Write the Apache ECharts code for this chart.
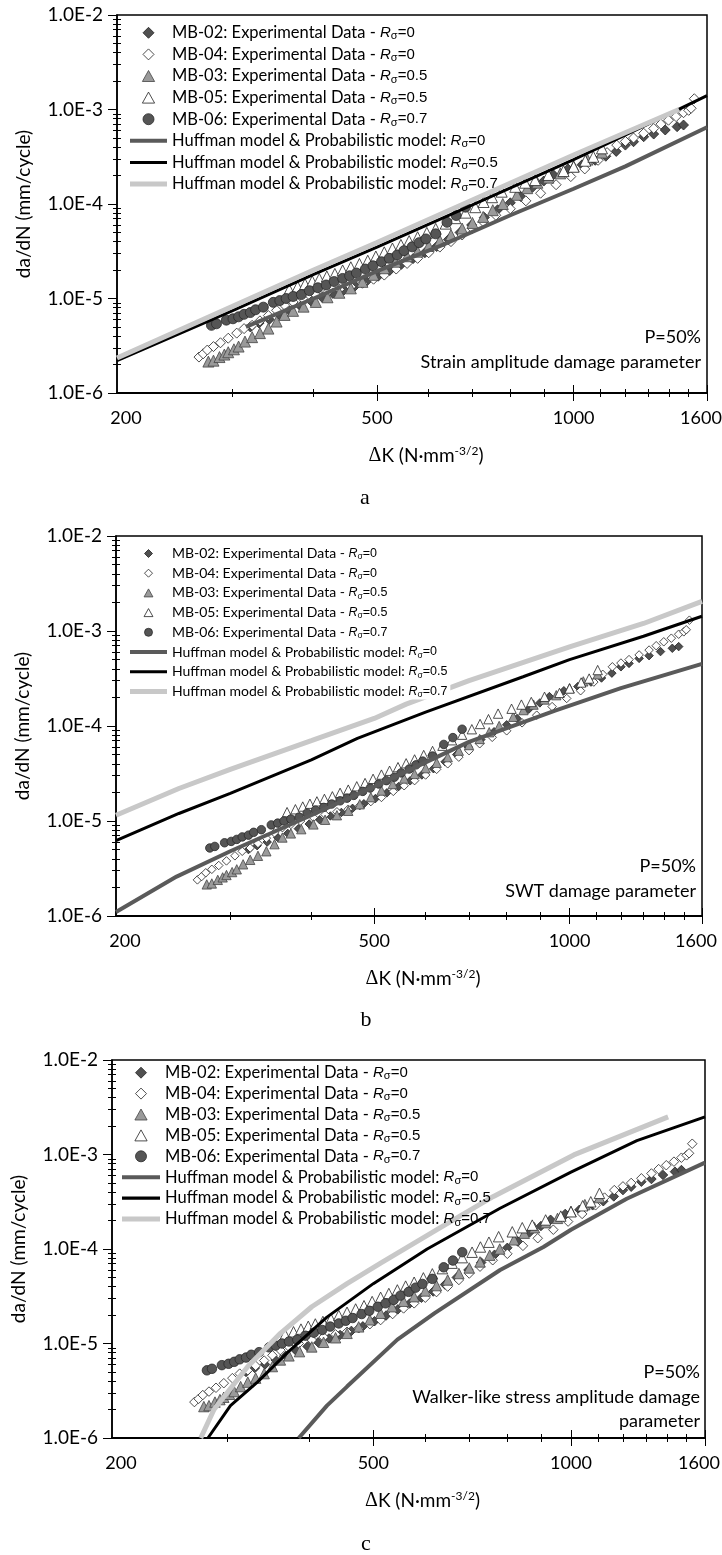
<!DOCTYPE html>
<html>
<head>
<meta charset="utf-8">
<script src="https://cdn.jsdelivr.net/npm/echarts@6/dist/echarts.min.js"></script>
<style>
  html, body { margin: 0; padding: 0; background: #fff; }
  #chart { width: 722px; height: 1555px; }
</style>
</head>
<body>
<div id="chart"></div>
<script>
// experimental data (same specimens in all three panels), [dK, da/dN]
const mb02 = [[320,5.0e-6],[330,5.5e-6],[342,6.0e-6],[355,6.7e-6],[368,7.4e-6],[382,8.3e-6],[397,9.3e-6],[412,1.03e-5],[428,1.13e-5],[445,1.23e-5],[463,1.36e-5],[482,1.52e-5],[502,1.72e-5],[523,1.98e-5],[545,2.3e-5],[568,2.65e-5],[592,3.05e-5],[617,3.55e-5],[643,4.2e-5],[670,5.0e-5],[698,6.0e-5],[730,7.2e-5],[765,8.7e-5],[800,1.03e-4],[830,1.2e-4],[865,1.5e-4],[900,1.75e-4],[931,2.04e-4],[980,2.35e-4],[1030,2.6e-4],[1079,2.9e-4],[1120,3.2e-4],[1162,3.6e-4],[1200,4.2e-4],[1235,4.56e-4],[1280,5.15e-4],[1326,5.5e-4],[1381,6.07e-4],[1440,6.58e-4],[1473,6.85e-4]];
const mb04 = [[267,2.4e-6],[271,2.6e-6],[275,2.85e-6],[281,3.1e-6],[288,3.4e-6],[296,3.8e-6],[305,4.3e-6],[313,4.8e-6],[322,5.2e-6],[331,5.8e-6],[341,6.6e-6],[351,7.5e-6],[361,8.5e-6],[372,9.2e-6],[385,1.0e-5],[403,1.09e-5],[420,1.17e-5],[438,1.25e-5],[456,1.33e-5],[475,1.45e-5],[494,1.6e-5],[513,1.77e-5],[535,2.05e-5],[556,2.35e-5],[577,2.66e-5],[600,3.05e-5],[624,3.5e-5],[649,4.0e-5],[675,4.7e-5],[700,5.5e-5],[727,6.5e-5],[760,7.6e-5],[800,8.9e-5],[845,1.08e-4],[890,1.3e-4],[940,1.6e-4],[990,1.95e-4],[1040,2.35e-4],[1090,2.9e-4],[1125,3.5e-4],[1164,4.2e-4],[1200,4.6e-4],[1235,5.0e-4],[1280,5.6e-4],[1326,6.3e-4],[1360,7.0e-4],[1397,7.7e-4],[1435,8.4e-4],[1473,9.25e-4],[1500,9.8e-4],[1513,1.03e-3],[1530,1.3e-3]];
const mb03 = [[276,2.15e-6],[281,2.2e-6],[287,2.4e-6],[292,2.55e-6],[296,2.7e-6],[302,2.9e-6],[307,3.1e-6],[314,3.5e-6],[322,3.9e-6],[331,4.3e-6],[341,4.8e-6],[351,5.7e-6],[361,6.7e-6],[372,7.4e-6],[386,8.2e-6],[403,9.2e-6],[420,1.03e-5],[438,1.15e-5],[456,1.28e-5],[475,1.5e-5],[494,1.78e-5],[513,2.09e-5],[534,2.45e-5],[556,2.8e-5],[577,3.13e-5],[600,3.6e-5],[624,4.1e-5],[649,4.7e-5],[675,5.5e-5],[700,6.3e-5],[727,7.3e-5],[752,8.6e-5],[779,1.0e-4],[819,1.25e-4],[849,1.47e-4],[880,1.68e-4],[915,1.9e-4],[954,2.11e-4],[1000,2.5e-4],[1050,2.95e-4],[1105,3.5e-4]];
const mb05 = [[367,1.24e-5],[378,1.33e-5],[388,1.42e-5],[398,1.52e-5],[408,1.61e-5],[419,1.71e-5],[431,1.82e-5],[443,1.98e-5],[456,2.14e-5],[470,2.32e-5],[484,2.51e-5],[498,2.78e-5],[513,3.08e-5],[528,3.38e-5],[544,3.69e-5],[560,4.05e-5],[577,4.45e-5],[596,4.95e-5],[615,5.46e-5],[637,6.2e-5],[659,7.08e-5],[683,8.1e-5],[707,9.25e-5],[728,1.05e-4],[750,1.18e-4],[776,1.35e-4],[814,1.52e-4],[843,1.68e-4],[873,1.79e-4],[915,2.03e-4],[965,2.23e-4],[1000,2.48e-4],[1042,2.87e-4],[1072,3.16e-4],[1105,3.88e-4]];
const mb06 = [[279,5.2e-6],[284,5.4e-6],[294,5.9e-6],[301,6.1e-6],[307,6.4e-6],[313,6.8e-6],[320,7.1e-6],[326,7.6e-6],[335,8.1e-6],[347,9.1e-6],[355,9.5e-6],[363,1.0e-5],[372,1.05e-5],[383,1.1e-5],[394,1.21e-5],[406,1.3e-5],[418,1.39e-5],[430,1.51e-5],[443,1.63e-5],[454,1.74e-5],[465,1.86e-5],[480,2.05e-5],[493,2.22e-5],[508,2.45e-5],[522,2.66e-5],[537,2.89e-5],[550,3.21e-5],[566,3.52e-5],[580,3.9e-5],[594,4.27e-5],[615,4.83e-5],[640,6.4e-5],[661,7.55e-5],[683,9.25e-5]];

// Huffman & probabilistic model curves, per panel
const aR0 = [[315,5.0e-6],[400,1.0e-5],[500,1.95e-5],[625,3.6e-5],[800,7.6e-5],[1000,1.45e-4],[1200,2.5e-4],[1600,6.5e-4]];
const aR05 = [[200,2.2e-6],[300,7.4e-6],[400,1.8e-5],[500,3.5e-5],[700,9.8e-5],[1000,2.95e-4],[1300,7.0e-4],[1600,1.4e-3]];
const aR07 = [[200,2.35e-6],[300,8.2e-6],[400,2.0e-5],[500,3.9e-5],[700,1.1e-4],[1000,3.3e-4],[1450,1.0e-3]];
const bR0 = [[200,1.1e-6],[248,2.6e-6],[300,4.8e-6],[400,1.15e-5],[500,2.3e-5],[700,6.8e-5],[950,1.45e-4],[1200,2.5e-4],[1600,4.5e-4]];
const bR05 = [[200,6.2e-6],[250,1.2e-5],[300,1.95e-5],[400,4.4e-5],[471,7.4e-5],[600,1.4e-4],[848,3.3e-4],[1000,5.0e-4],[1300,8.8e-4],[1600,1.43e-3]];
const bR07 = [[200,1.15e-5],[250,2.2e-5],[300,3.5e-5],[400,7.0e-5],[500,1.2e-4],[560,1.7e-4],[700,3.0e-4],[1000,6.8e-4],[1300,1.2e-3],[1600,2.05e-3]];
const cR0 = [[385,1.0e-6],[425,2.2e-6],[456,3.5e-6],[544,1.1e-5],[620,2.1e-5],[780,6.0e-5],[908,1.05e-4],[1000,1.6e-4],[1216,3.4e-4],[1600,8.2e-4]];
const cR05 = [[280,1.0e-6],[303,2.2e-6],[333,3.9e-6],[370,8.0e-6],[425,1.9e-5],[500,4.3e-5],[604,1.0e-4],[780,2.7e-4],[1000,6.5e-4],[1260,1.4e-3],[1600,2.5e-3]];
const cR07 = [[273,1.0e-6],[286,2.0e-6],[322,5.7e-6],[361,1.28e-5],[403,2.45e-5],[456,4.3e-5],[513,7.1e-5],[625,1.6e-4],[762,3.6e-4],[1010,9.9e-4],[1406,2.5e-3]];

// axis ticks / labels
const xLabels = [200, 500, 1000, 1600];
const xMajor = [500, 1000, 1600];
const xMinor = [300, 400, 600, 700, 800, 900, 1100, 1200, 1300, 1400, 1500];
const yMinor = [];
[1e-6, 1e-5, 1e-4, 1e-3].forEach(d => { for (let k = 2; k <= 9; k++) yMinor.push(k * d); });

const panelTitles = ['a', 'b', 'c'];
const damageNames = ['Strain amplitude damage parameter', 'SWT damage parameter', 'Walker-like stress amplitude damage\nparameter'];

const legendText = {
  'MB-02': '{t|MB-02: Experimental Data - }{r|R}{s|σ}{e|=0}',
  'MB-04': '{t|MB-04: Experimental Data - }{r|R}{s|σ}{e|=0}',
  'MB-03': '{t|MB-03: Experimental Data - }{r|R}{s|σ}{e|=0.5}',
  'MB-05': '{t|MB-05: Experimental Data - }{r|R}{s|σ}{e|=0.5}',
  'MB-06': '{t|MB-06: Experimental Data - }{r|R}{s|σ}{e|=0.7}',
  'H0': '{t|Huffman model & Probabilistic model: }{r|R}{s|σ}{e|=0}',
  'H05': '{t|Huffman model & Probabilistic model: }{r|R}{s|σ}{e|=0.5}',
  'H07': '{t|Huffman model & Probabilistic model: }{r|R}{s|σ}{e|=0.7}'
};

const iconPath = {
  diamond: 'path://M5,0L10,5L5,10L0,5Z',
  triangle: 'path://M5,0L10,9L0,9Z',
  circle: 'path://M0,5A5,5,0,1,1,10,5A5,5,0,1,1,0,5Z'
};

const specimens = [
  { name: 'MB-02', data: mb02, symbol: 'diamond', size: 10, fill: '#505050', stroke: '#222' },
  { name: 'MB-04', data: mb04, symbol: 'diamond', size: 10, fill: '#fff', stroke: '#222' },
  { name: 'MB-03', data: mb03, symbol: 'triangle', size: 11, fill: '#9a9a9a', stroke: '#444' },
  { name: 'MB-05', data: mb05, symbol: 'triangle', size: 11, fill: '#fff', stroke: '#222' },
  { name: 'MB-06', data: mb06, symbol: 'circle', size: 10, fill: '#555', stroke: '#2a2a2a' }
];
const modelStyle = [
  { name: 'H0', color: '#5a5a5a', width: 4 },
  { name: 'H05', color: '#000', width: 3 },
  { name: 'H07', color: '#c8c8c8', width: 5 }
];

const panels = [
  { grid: { left: 117, top: 15, width: 590, height: 378 }, models: [aR0, aR05, aR07], mk: 1,
    leg: { left: 130, top: 24.3, fs: 16.5, lh: 18, gap: 4.1, iw: 37, ih: 11, bg: 'transparent' },
    note: [701, 337], cap: [365, 498] },
  { grid: { left: 116, top: 536, width: 586, height: 380 }, models: [bR0, bR05, bR07], mk: 0.85,
    leg: { left: 130, top: 546.5, fs: 14, lh: 16, gap: 4.7, iw: 37, ih: 8, bg: '#fff' },
    note: [696, 866], cap: [366, 1020] },
  { grid: { left: 112, top: 1060, width: 593, height: 378 }, models: [cR0, cR05, cR07], mk: 0.95,
    leg: { left: 122, top: 1064.2, fs: 16.5, lh: 18, gap: 3.4, iw: 38, ih: 11, bg: 'transparent' },
    note: [700, 1372], cap: [366, 1544] }
];

const LOG = Math.log10;
const font = 'Lato';
const grids = [], xAxes = [], yAxes = [], series = [], legends = [], graphics = [];

function xDeco(p, ticks, len, inside) {
  return {
    gridIndex: p, type: 'value', position: 'bottom', min: LOG(200), max: LOG(1600),
    axisLine: { show: false, onZero: false },
    axisTick: { show: true, inside: inside, length: len, customValues: ticks.map(LOG), lineStyle: { color: '#000', width: 1 } },
    axisLabel: { show: false }, splitLine: { show: false }
  };
}
function yDeco(p, ticks, len, inside) {
  return {
    gridIndex: p, type: 'value', position: 'left', min: -6, max: -2,
    axisLine: { show: false, onZero: false },
    axisTick: { show: true, inside: inside, length: len, customValues: ticks.map(LOG), lineStyle: { color: '#000', width: 1 } },
    axisLabel: { show: false }, splitLine: { show: false }
  };
}

panels.forEach((P, p) => {
  grids.push(Object.assign({ show: true, borderColor: '#000', borderWidth: 1.5, backgroundColor: 'transparent',
    containLabel: false, outerBoundsMode: 'none' }, P.grid));

  // x axes: 0 = log axis carrying the data, 1..4 = tick / label decorations
  xAxes.push({
    gridIndex: p, type: 'log', logBase: 10, min: 200, max: 1600, position: 'bottom',
    axisLine: { show: true, onZero: false, lineStyle: { color: '#000', width: 2 } },
    axisTick: { show: false }, axisLabel: { show: false }, splitLine: { show: false }
  });
  const lab = xDeco(p, xMajor, 8, false);
  lab.axisLabel = {
    show: true, customValues: xLabels.map(LOG), margin: 16,
    formatter: v => {
      const s = String(Math.round(Math.pow(10, v)));
      if (s === '200') return '{first|200}';
      if (s === '1600') return '{last|1600}';
      return s;
    },
    fontFamily: font, fontSize: 18, color: '#000',
    rich: {
      first: { fontFamily: font, fontSize: 18, color: '#000', padding: [0, 0, 0, 18] },
      last: { fontFamily: font, fontSize: 18, color: '#000', padding: [0, 12, 0, 0] }
    }
  };
  lab.name = '{d|Δ}{n|K (N·mm}{sup|-3/2}{n|)}';
  lab.nameLocation = 'middle';
  lab.nameGap = 52;
  lab.nameTextStyle = {
    padding: [0, 0, 0, 28],
    rich: {
      d: { fontFamily: 'Liberation Serif', fontSize: 20, color: '#000', lineHeight: 22 },
      n: { fontFamily: font, fontSize: 19, color: '#000', lineHeight: 22 },
      sup: { fontFamily: font, fontSize: 12, color: '#000', lineHeight: 12, verticalAlign: 'top' }
    }
  };
  xAxes.push(lab);
  xAxes.push(xDeco(p, xMajor, 8, true));
  xAxes.push(xDeco(p, xMinor, 4, false));
  xAxes.push(xDeco(p, xMinor, 4, true));

  // y axes: 0 = log axis carrying the data, 1..2 = minor ticks
  yAxes.push({
    gridIndex: p, type: 'log', logBase: 10, min: 1e-6, max: 1e-2, position: 'left',
    axisLine: { show: true, onZero: false, lineStyle: { color: '#000', width: 1.5 } },
    axisTick: { show: true, inside: false, length: 9, lineStyle: { color: '#000', width: 1 } },
    axisLabel: { formatter: v => v.toExponential(1).toUpperCase(), margin: 14, fontFamily: font, fontSize: 19, color: '#000' },
    splitLine: { show: false },
    name: 'da/dN (mm/cycle)', nameLocation: 'middle', nameGap: 84,
    nameTextStyle: { fontFamily: font, fontSize: 19, color: '#000' }
  });
  yAxes.push(yDeco(p, yMinor, 4, false));
  yAxes.push(yDeco(p, yMinor, 4, true));

  const xi = p * 5, yi = p * 3;
  specimens.forEach(s => series.push({
    type: 'scatter', name: s.name, xAxisIndex: xi, yAxisIndex: yi, data: s.data,
    symbol: s.symbol, symbolSize: s.size * P.mk,
    itemStyle: { color: s.fill, borderColor: s.stroke, borderWidth: 0.8, opacity: 1 },
    z: 2
  }));
  modelStyle.forEach((m, i) => series.push({
    type: 'line', name: m.name, xAxisIndex: xi, yAxisIndex: yi, data: P.models[i],
    symbol: 'none', showSymbol: false, clip: true,
    lineStyle: { color: m.color, width: m.width }, itemStyle: { color: m.color },
    z: 3
  }));

  const L = P.leg;
  const legendData = specimens.map(s => ({
    name: s.name, icon: iconPath[s.symbol],
    itemStyle: { color: s.fill, borderColor: s.stroke, borderWidth: 0.8 }
  })).concat(modelStyle.map(m => ({
    name: m.name, icon: 'path://M0,0L37,0L37,' + m.width + 'L0,' + m.width + 'Z',
    itemStyle: { color: m.color, borderWidth: 0 }
  })));
  legends.push({
    orient: 'vertical', left: L.left, top: L.top, padding: [0, 3, 0, 0],
    itemWidth: L.iw, itemHeight: L.ih, itemGap: L.gap, selectedMode: false,
    symbolKeepAspect: true,
    backgroundColor: L.bg,
    data: legendData,
    formatter: n => legendText[n],
    textStyle: {
      rich: {
        t: { fontFamily: font, fontSize: L.fs, color: '#000', lineHeight: L.lh },
        r: { fontFamily: 'Liberation Sans', fontStyle: 'italic', fontSize: L.fs - 1.5, color: '#000', lineHeight: L.lh },
        s: { fontFamily: 'Liberation Sans', fontSize: L.fs - 5.5, color: '#000', lineHeight: L.fs - 5.5, verticalAlign: 'bottom' },
        e: { fontFamily: 'Liberation Sans', fontSize: L.fs - 1.5, color: '#000', lineHeight: L.lh }
      }
    }
  });

  graphics.push({
    type: 'text', x: P.note[0], y: P.note[1] - 12, z: 100,
    style: { text: 'P=50%\n' + damageNames[p], align: 'right', verticalAlign: 'top',
      fontFamily: font, fontSize: 18, lineHeight: 24.5, fill: '#000' }
  });
  graphics.push({
    type: 'text', x: P.cap[0], y: P.cap[1], z: 100,
    style: { text: panelTitles[p], align: 'center', verticalAlign: 'middle',
      fontFamily: 'Liberation Serif', fontSize: 22, fill: '#000' }
  });
});

const chart = echarts.init(document.getElementById('chart'), null, { renderer: 'canvas' });
chart.setOption({
  animation: false,
  backgroundColor: '#fff',
  grid: grids,
  xAxis: xAxes,
  yAxis: yAxes,
  legend: legends,
  series: series,
  graphic: graphics
});
</script>
</body>
</html>
